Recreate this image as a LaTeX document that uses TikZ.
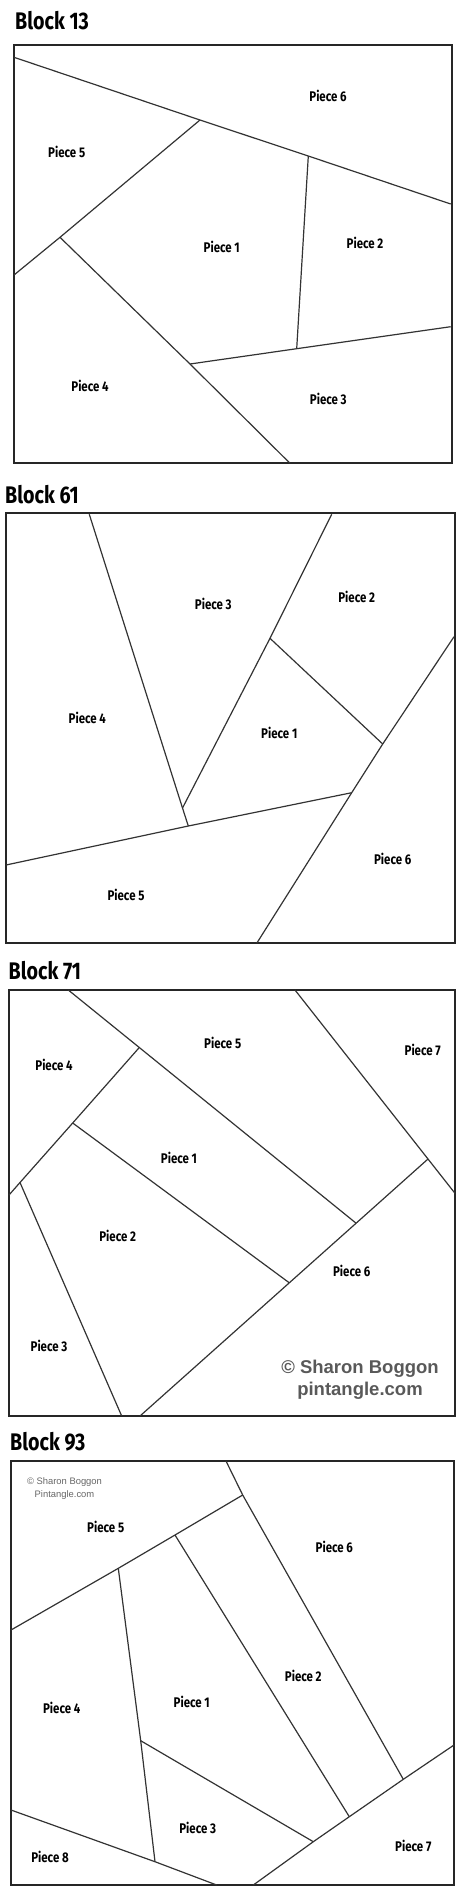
\documentclass[tikz,border=0pt]{standalone}
\usepackage{fontspec}
\setmainfont{Fira Sans}
\newfontfamily\blockfont[FakeStretch=0.82]{Fira Sans}
\newfontfamily\creditfont{Liberation Sans}
\usetikzlibrary{positioning,calc}
\tikzset{
  border/.style={draw=black!85, line width=2pt},
  seam/.style={draw=black!80, line width=1.2pt},
  piece/.style={font=\blockfont\bfseries\fontsize{14}{14}\selectfont, inner sep=0pt},
  blocktitle/.style={font=\blockfont\bfseries\fontsize{24}{24}\selectfont, anchor=base west, inner sep=0pt},
  bigcredit/.style={font=\creditfont\bfseries\fontsize{18.5}{22}\selectfont, text=black!65, align=center, inner sep=0pt},
  smallcredit/.style={font=\creditfont\fontsize{9.4}{13}\selectfont, text=black!60, align=center, inner sep=0pt}
}

\begin{document}
\begin{tikzpicture}[x=1pt,y=-1pt]
                \useasboundingbox (0,0) rectangle (460,1893);
                % block 13
                \node[blocktitle] (t13) at (15,29.3) {Block 13};
                \draw[border] (14,45) rectangle (451.7,463.3);
                \coordinate (a1) at (14,57.3);
                \coordinate (a2) at (200,120);
                \coordinate (a3) at (308.3,156);
                \coordinate (a4) at (450.7,204);
                \coordinate (a5) at (60,237.3);
                \coordinate (a6) at (14,275);
                \coordinate (a7) at (190,364);
                \coordinate (a8) at (290,463.3);
                \coordinate (a9) at (296.7,348.7);
                \coordinate (a10) at (450.7,326.7);
                \draw[seam] (a1) -- (a2) -- (a3) -- (a4);
                \draw[seam] (a2) -- (a5) -- (a6);
                \draw[seam] (a5) -- (a7) -- (a8);
                \draw[seam] (a7) -- (a9) -- (a10);
                \draw[seam] (a3) -- (a9);
                \foreach \n/\x/\y in {1/221.7/246.7, 2/365/243.3, 3/328.3/399.3, 4/90/386, 5/66.7/151.7, 6/328/96}
                \node[piece] (b13p\n) at (\x,\y) {Piece \n};
                % block 61
                \node[blocktitle] (t61) at (5,503.3) {Block 61};
                \draw[border] (6,513.3) rectangle (455,943.3);
                \coordinate (b1) at (89.3,514.3);
                \coordinate (b2) at (188.3,826);
                \coordinate (b3) at (331.7,514.3);
                \coordinate (b4) at (270,638.3);
                \coordinate (b5) at (182.5,808);
                \coordinate (b6) at (382.7,744);
                \coordinate (b7) at (454,636.7);
                \coordinate (b8) at (256.7,943.3);
                \coordinate (b9) at (351.7,792.7);
                \coordinate (b10) at (6,865);
                \draw[seam] (b1) -- (b5) -- (b2);
                \draw[seam] (b3) -- (b4) -- (b5);
                \draw[seam] (b4) -- (b6);
                \draw[seam] (b7) -- (b6) -- (b9) -- (b8);
                \draw[seam] (b10) -- (b2) -- (b9);
                \foreach \n/\x/\y in {1/279.3/732.7, 2/356.7/597.3, 3/213.3/604.3, 4/87.3/718.3, 5/126/895, 6/392.7/859.3}
                \node[piece] (b61p\n) at (\x,\y) {Piece \n};
                % block 71
                \node[blocktitle] (t71) at (8.5,979.3) {Block 71};
                \draw[border] (9,990) rectangle (455,1416);
                \coordinate (c1) at (68.3,990);
                \coordinate (c2) at (139.3,1047.5);
                \coordinate (c3) at (356.1,1223.2);
                \coordinate (c4) at (295,990);
                \coordinate (c5) at (428,1159);
                \coordinate (c6) at (455,1193.3);
                \coordinate (c7) at (72.7,1123);
                \coordinate (c8) at (20,1182.5);
                \coordinate (c9) at (9,1195);
                \coordinate (c10) at (289.3,1282.8);
                \coordinate (c11) at (140,1416);
                \coordinate (c12) at (121.7,1416);
                \draw[seam] (c1) -- (c2) -- (c3);
                \draw[seam] (c4) -- (c5) -- (c6);
                \draw[seam] (c2) -- (c7) -- (c8) -- (c9);
                \draw[seam] (c7) -- (c10);
                \draw[seam] (c5) -- (c3) -- (c10) -- (c11);
                \draw[seam] (c8) -- (c12);
                \foreach \n/\x/\y in {1/179/1158.3, 2/117.7/1236, 3/49/1346, 4/54/1065, 5/222.7/1042.7, 6/351.7/1271, 7/422.7/1050}
                \node[piece] (b71p\n) at (\x,\y) {Piece \n};
                \node[bigcredit] (cr71) at (360,1379.5) {© Sharon Boggon\\pintangle.com};
                % block 93
                \node[blocktitle] (t93) at (10,1450.7) {Block 93};
                \draw[border] (11,1461) rectangle (454,1885);
                \coordinate (d1) at (226,1461);
                \coordinate (d2) at (242.7,1495);
                \coordinate (d3) at (403.3,1779.3);
                \coordinate (d4) at (175,1535);
                \coordinate (d5) at (118.3,1568.3);
                \coordinate (d6) at (11,1630);
                \coordinate (d7) at (349.3,1816.7);
                \coordinate (d8) at (140.7,1740.7);
                \coordinate (d9) at (155,1861.7);
                \coordinate (d10) at (313.3,1841.7);
                \coordinate (d11) at (454,1745);
                \coordinate (d12) at (253.3,1885);
                \coordinate (d13) at (11,1810);
                \coordinate (d14) at (216.7,1885);
                \draw[seam] (d1) -- (d2) -- (d3);
                \draw[seam] (d2) -- (d4) -- (d5) -- (d6);
                \draw[seam] (d4) -- (d7);
                \draw[seam] (d5) -- (d8) -- (d9);
                \draw[seam] (d8) -- (d10);
                \draw[seam] (d11) -- (d3) -- (d7) -- (d10) -- (d12);
                \draw[seam] (d13) -- (d9) -- (d14);
                \foreach \n/\x/\y in {1/191.7/1701.7, 2/303.3/1675.7, 3/197.7/1828.3, 4/61.7/1707.7, 5/105.7/1527.3, 6/334.3/1546.7, 7/413.3/1846, 8/50/1856.7}
                \node[piece] (b93p\n) at (\x,\y) {Piece \n};
                \node[smallcredit] (cr93) at (64.5,1488.5) {© Sharon Boggon\\Pintangle.com};
\end{tikzpicture}
\end{document}
